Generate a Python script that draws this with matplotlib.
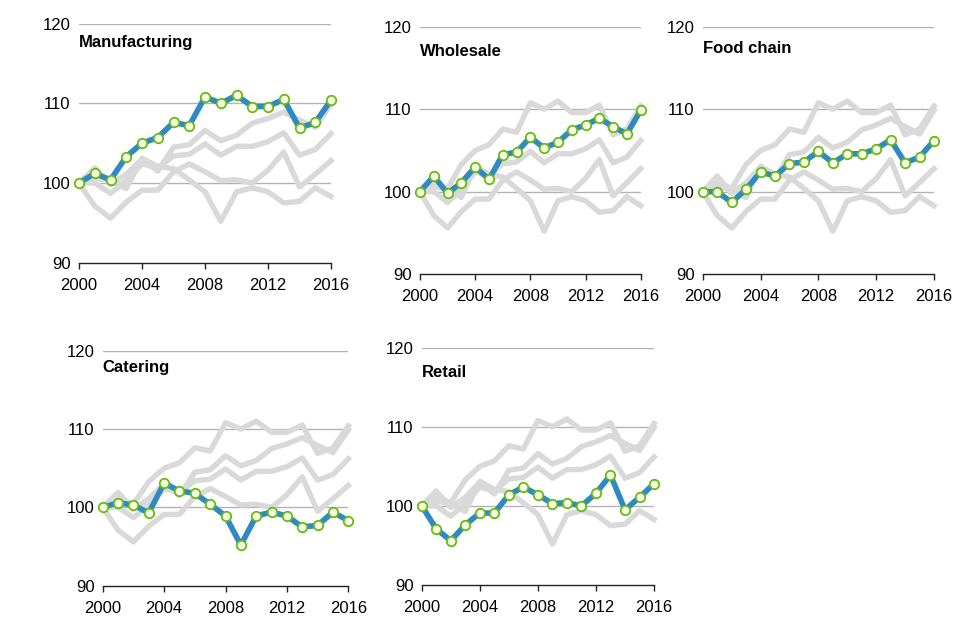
import matplotlib
matplotlib.use("Agg")
import matplotlib.pyplot as plt
import numpy as np

plt.rcParams['font.family'] = ['Liberation Sans Narrow', 'Liberation Sans', 'DejaVu Sans']

years = np.arange(2000, 2017)

manufacturing = [100, 101.2, 100.4, 103.3, 105.0, 105.7, 107.6, 107.2, 110.8, 110.0,
                 111.0, 109.6, 109.6, 110.5, 106.9, 107.6, 110.4]
wholesale = [100, 101.9, 99.8, 101.1, 103.0, 101.5, 104.5, 104.8, 106.6, 105.3,
             106.0, 107.5, 108.1, 108.9, 107.9, 107.0, 109.9]
food_chain = [100, 100, 98.7, 100.3, 102.4, 101.9, 103.4, 103.6, 104.9, 103.5,
              104.6, 104.6, 105.2, 106.3, 103.5, 104.2, 106.2]
catering = [100, 100.6, 100.3, 99.3, 103.1, 102.1, 101.8, 100.4, 98.9, 95.2,
            98.9, 99.4, 98.9, 97.5, 97.7, 99.4, 98.3]
retail = [100, 97.1, 95.6, 97.6, 99.1, 99.1, 101.4, 102.4, 101.4, 100.3,
          100.4, 100.0, 101.6, 103.9, 99.5, 101.1, 102.8]

names = ["Manufacturing", "Wholesale", "Food chain", "Catering", "Retail"]
series = [manufacturing, wholesale, food_chain, catering, retail]

# axes boxes in figure fractions [left, bottom, width, height]
boxes = [
    [0.0823, 0.5895, 0.2625, 0.3736],
    [0.4375, 0.5717, 0.2299, 0.3863],
    [0.7320, 0.5717, 0.2409, 0.3863],
    [0.1070, 0.0848, 0.2558, 0.3672],
    [0.4393, 0.0859, 0.2420, 0.3708],
]
title_y = [117.6, 117.0, 117.4, 117.8, 116.9]

BLUE = "#2E89C5"
GREY = "#D9D9D9"

fig = plt.figure(figsize=(9.6, 6.4), dpi=100)

for name, vals, box, ty in zip(names, series, boxes, title_y):
    ax = fig.add_axes(box)
    for other in series:
        ax.plot(years, other, color=GREY, lw=3.9, zorder=2, clip_on=False)
    ax.plot(years, vals, color=BLUE, lw=4.0, zorder=3, clip_on=False,
            marker='o', markersize=6.8, markerfacecolor='#FAFFE8',
            markeredgecolor='#66BB11', markeredgewidth=1.3)
    ax.set_xlim(2000, 2016)
    ax.set_ylim(90, 120)
    ax.set_xticks([2000, 2004, 2008, 2012, 2016])
    ax.set_yticks([90, 100, 110, 120])
    for y in [100, 110, 120]:
        ax.axhline(y, color='#B3B3B3', lw=1.0, zorder=1)
    for s in ['top', 'right', 'left']:
        ax.spines[s].set_visible(False)
    ax.spines['bottom'].set_color('#222222')
    ax.spines['bottom'].set_linewidth(1.0)
    ax.tick_params(axis='x', direction='out', length=4, width=1.0,
                   color='#222222', labelsize=12, pad=7)
    ax.tick_params(axis='y', length=0, labelsize=12, pad=6)
    ax.patch.set_alpha(0)
    ax.text(2000, ty, name, fontsize=12, fontweight='bold',
            ha='left', va='center')

fig.savefig("out.png", dpi=100)
